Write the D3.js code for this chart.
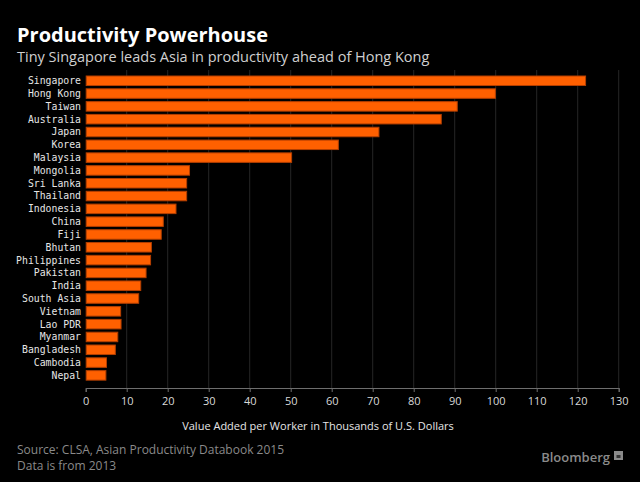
<!DOCTYPE html>
<html>
<head>
<meta charset="utf-8">
<script src="https://cdn.jsdelivr.net/npm/d3@7"></script>
<style>
  html, body { margin: 0; padding: 0; background: #000; }
  svg { display: block; }
</style>
</head>
<body>
<script>
const categories = ["Singapore","Hong Kong","Taiwan","Australia","Japan","Korea","Malaysia","Mongolia","Sri Lanka","Thailand","Indonesia","China","Fiji","Bhutan","Philippines","Pakistan","India","South Asia","Vietnam","Lao PDR","Myanmar","Bangladesh","Cambodia","Nepal"];
const values = [121.8, 99.8, 90.5, 86.6, 71.4, 61.5, 50.1, 25.2, 24.5, 24.5, 21.9, 18.8, 18.3, 15.9, 15.7, 14.6, 13.3, 12.8, 8.4, 8.5, 7.7, 7.1, 4.95, 4.8];
const tickValues = [0,10,20,30,40,50,60,70,80,90,100,110,120,130];
const titleText = "Productivity Powerhouse";
const subtitleText = "Tiny Singapore leads Asia in productivity ahead of Hong Kong";
const axisTitle = "Value Added per Worker in Thousands of U.S. Dollars";
const sourceLines = ["Source: CLSA, Asian Productivity Databook 2015", "Data is from 2013"];

const W = 640, H = 482;
const svg = d3.select("body").append("svg").attr("width", W).attr("height", H)
  .style("background", "#000");

const x = d3.scaleLinear().domain([0, 130]).range([85.7, 618.7]);
const n = categories.length;
const step = 12.81;
const y = d3.scaleBand().domain(categories).range([74.35, 74.35 + n * step])
  .paddingInner(0.18).paddingOuter(0.09);
const axisY = 388;

// gridlines
svg.append("g").selectAll("line").data(tickValues.slice(1)).join("line")
  .attr("x1", d => x(d)).attr("x2", d => x(d))
  .attr("y1", 70).attr("y2", axisY)
  .attr("stroke", "#262626").attr("stroke-width", 1);

// bars
svg.append("g").selectAll("rect").data(values).join("rect")
  .attr("x", x(0) + 0.5)
  .attr("y", (d, i) => y(categories[i]) + 0.5)
  .attr("width", d => x(d) - x(0))
  .attr("height", y.bandwidth() - 1)
  .attr("fill", "#ff6000")
  .attr("stroke", "#b33f00")
  .attr("stroke-width", 1);

// category labels
svg.append("g").selectAll("text").data(categories).join("text")
  .attr("x", 81)
  .attr("y", d => y(d) + y.bandwidth() / 2)
  .attr("dy", "0.35em")
  .attr("text-anchor", "end")
  .attr("fill", "#e6e6e6")
  .style("font-family", "'DejaVu Sans Mono', monospace")
  .style("font-size", "9.8px")
  .text(d => d);

// x axis
const axis = d3.axisBottom(x).tickValues(tickValues).tickSize(4).tickPadding(5);
const gx = svg.append("g").attr("transform", `translate(0,${axisY})`).call(axis);
gx.select(".domain").attr("stroke", "#6e6e6e");
gx.selectAll(".tick line").attr("stroke", "#6e6e6e");
gx.selectAll(".tick text")
  .attr("fill", "#d9d9d9")
  .style("font-family", "'Open Sans', sans-serif")
  .style("font-size", "11px");

svg.append("text")
  .attr("x", 318).attr("y", 426)
  .attr("dy", "0.35em")
  .attr("text-anchor", "middle")
  .attr("fill", "#e6e6e6")
  .style("font-family", "'Open Sans', sans-serif")
  .style("font-size", "11px")
  .text(axisTitle);

// titles
svg.append("text")
  .attr("x", 17).attr("y", 42)
  .attr("fill", "#ffffff")
  .style("font-family", "'Open Sans', sans-serif")
  .style("font-weight", "bold")
  .style("font-size", "20px")
  .text(titleText);

svg.append("text")
  .attr("x", 17).attr("y", 62)
  .attr("fill", "#d0d0d0")
  .style("font-family", "'Open Sans', sans-serif")
  .style("font-size", "14.5px")
  .text(subtitleText);

// footer
svg.append("g").selectAll("text").data(sourceLines).join("text")
  .attr("x", 17)
  .attr("y", (d, i) => 454 + i * 16)
  .attr("fill", "#8a8a8a")
  .style("font-family", "'Open Sans', sans-serif")
  .style("font-size", "12px")
  .text(d => d);

svg.append("text")
  .attr("x", 610).attr("y", 462)
  .attr("text-anchor", "end")
  .attr("fill", "#8a8a8a")
  .style("font-family", "'Open Sans', sans-serif")
  .style("font-weight", "600")
  .style("font-size", "13px")
  .text("Bloomberg");

svg.append("rect")
  .attr("x", 614).attr("y", 451).attr("width", 9).attr("height", 9)
  .attr("fill", "#8a8a8a");
svg.append("rect")
  .attr("x", 616.5).attr("y", 455).attr("width", 4).attr("height", 3)
  .attr("fill", "#333");
</script>
</body>
</html>
